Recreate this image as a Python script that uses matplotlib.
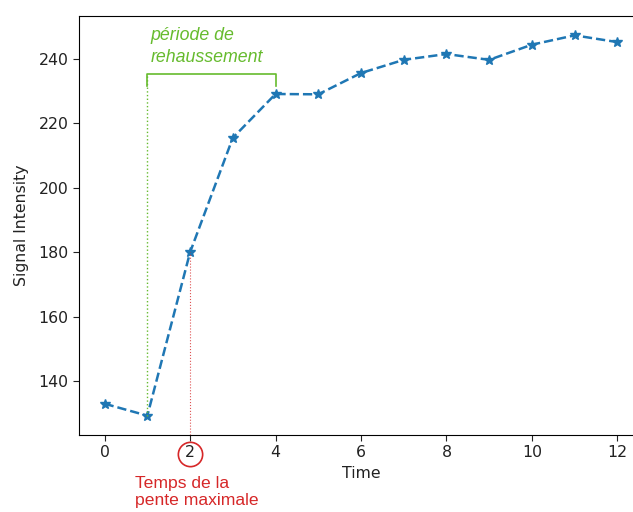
import matplotlib
matplotlib.use("Agg")
import matplotlib.pyplot as plt
import matplotlib.transforms as mtransforms

# signal values
time = [0, 1, 2, 3, 4, 5, 6, 7, 8, 9, 10, 11, 12]
signal = [133.0, 129.3, 180.0, 215.5, 229.1, 229.0, 235.6, 239.7, 241.5, 239.7, 244.4, 247.3, 245.2]

t_start, t_end = 1, 4      # période de rehaussement
t_slope = 2                # temps de la pente maximale
bracket_y, bracket_tick = 235.3, 231.5

green = '#66bb2e'
red = '#d62728'

fig = plt.figure(figsize=(6.33, 5.12), dpi=100)
ax = fig.add_axes([79 / 633, 77 / 512, 564 / 633, 419 / 512])
ax.spines['right'].set_visible(False)

ax.plot(time, signal, '--*', color='tab:blue', linewidth=1.8, markersize=7)

# bracket for the enhancement period
ax.plot([t_start, t_start, t_end, t_end], [bracket_tick, bracket_y, bracket_y, bracket_tick],
        color=green, linewidth=1.2)
ax.plot([t_start, t_start], [signal[t_start], bracket_y], ':', color=green, linewidth=1.0)
ax.text(t_start + 0.08, 237.9, 'période de\nrehaussement', color=green, fontsize=12.8,
        family='Liberation Sans', style='italic', ha='left', va='bottom', linespacing=1.35)

# max slope marker
ax.plot([t_slope, t_slope], [123.3, signal[t_slope]], ':', color=red, linewidth=0.8, alpha=0.8)
trans = mtransforms.blended_transform_factory(ax.transData, ax.transAxes)
ax.plot([t_slope], [-0.045], 'o', transform=trans, clip_on=False, markersize=17.5,
        markerfacecolor='none', markeredgecolor=red, markeredgewidth=1.2)
ax.text(t_slope - 1.3, -0.099, 'Temps de la\npente maximale', transform=trans, color=red,
        fontsize=12.6, family='Liberation Sans', ha='left', va='top', linespacing=1.15)

ax.set_xlim(-0.6, 12.6)
ax.set_ylim(123.3, 253.3)
ax.set_xticks([0, 2, 4, 6, 8, 10, 12])
ax.set_yticks([140, 160, 180, 200, 220, 240])
ax.tick_params(labelsize=11.3, length=4, colors='#222222')
ax.set_xlabel('Time', fontsize=11.3, labelpad=4, color='#222222')
ax.set_ylabel('Signal Intensity', fontsize=11.3, labelpad=7, color='#222222')

plt.savefig('out.png', dpi=100)
